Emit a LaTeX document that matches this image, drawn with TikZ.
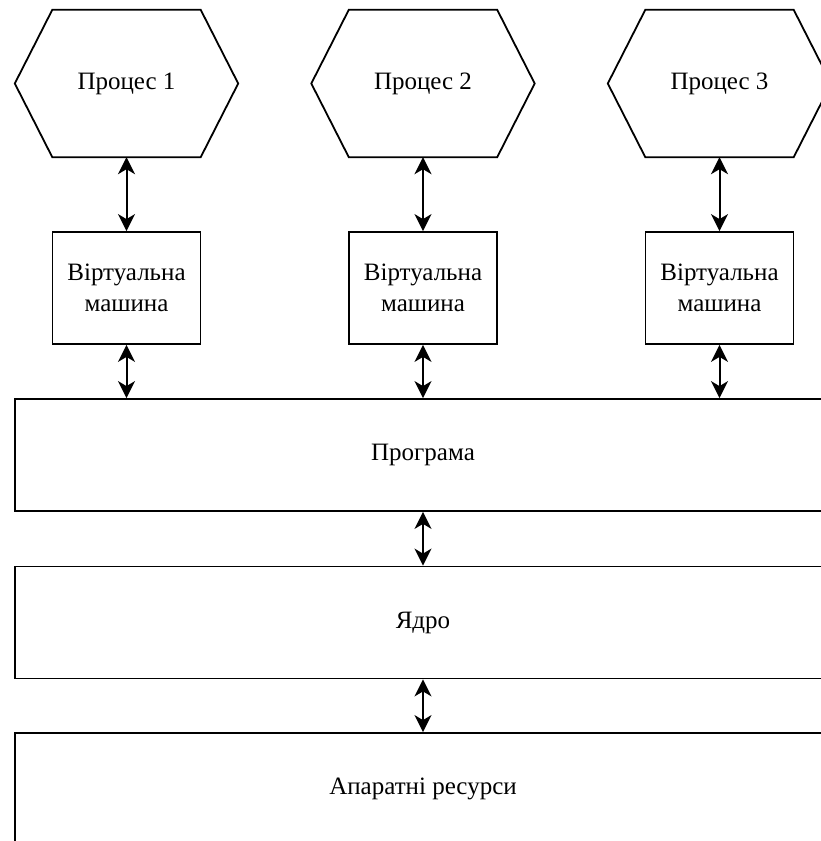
\documentclass[tikz,border=0pt]{standalone}
\usepackage{fontspec}
\setmainfont{Liberation Serif}
\usetikzlibrary{arrows.meta}
\begin{document}
\begin{tikzpicture}[x=1pt,y=-1pt,
  every node/.style={font=\fontsize{25}{31}\selectfont, inner sep=0pt},
  hexbox/.style={minimum width=223pt, minimum height=147pt},
  vmbox/.style={draw, line width=1.8pt, minimum width=148pt, minimum height=112pt, align=center},
  layer/.style={draw, line width=1.8pt, minimum width=816pt, minimum height=112pt},
  link/.style={line width=2pt, {Stealth[length=17pt,width=17pt,inset=5pt]}-{Stealth[length=17pt,width=17pt,inset=5pt]}},
  hexline/.style={line width=1.8pt, line join=miter}]
  \clip (0,0) rectangle (821,841);

  % processes
  \node[hexbox] (p1) at (126.5,83.5) {Процес 1};
  \node[hexbox] (p2) at (423,83.5) {Процес 2};
  \node[hexbox] (p3) at (719.5,83.5) {Процес 3};
  \foreach \p in {p1,p2,p3}
    \draw[hexline] ([xshift=37.5pt]\p.north west) -- ([xshift=-37.5pt]\p.north east)
      -- (\p.east) -- ([xshift=-37.5pt]\p.south east) -- ([xshift=37.5pt]\p.south west)
      -- (\p.west) -- cycle;

  % virtual machines
  \node[vmbox] (v1) at (126.5,288) {Віртуальна\\машина};
  \node[vmbox] (v2) at (423,288) {Віртуальна\\машина};
  \node[vmbox] (v3) at (719.5,288) {Віртуальна\\машина};

  % layers
  \node[layer] (prog) at (423,455) {Програма};
  \node[layer] (core) at (423,622.5) {Ядро};
  \node[layer] (hw) at (423,789) {Апаратні ресурси};

  % connections
  \draw[link] (p1.south) -- (v1.north);
  \draw[link] (p2.south) -- (v2.north);
  \draw[link] (p3.south) -- (v3.north);
  \draw[link] (v1.south) -- (v1.south |- prog.north);
  \draw[link] (v2.south) -- (v2.south |- prog.north);
  \draw[link] (v3.south) -- (v3.south |- prog.north);
  \draw[link] (prog.south) -- (core.north);
  \draw[link] (core.south) -- (hw.north);
\end{tikzpicture}
\end{document}
